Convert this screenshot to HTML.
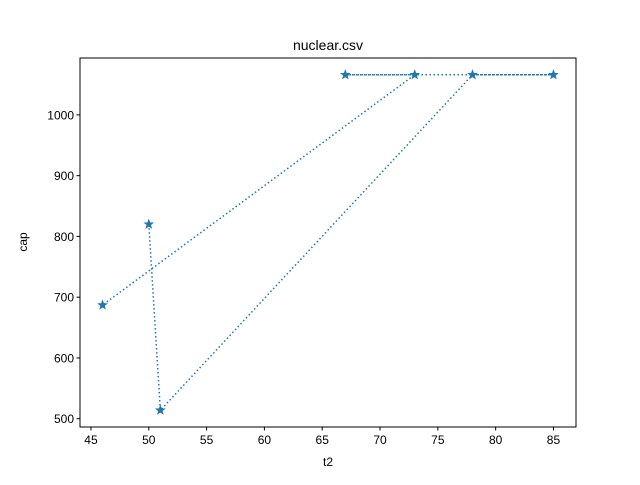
<!DOCTYPE html>
<html><head><meta charset="utf-8"><style>body{margin:0;background:#fff}svg{font-family:"Liberation Sans","DejaVu Sans",sans-serif}</style></head>
<body>
<svg id="chart" width="640" height="480" xmlns="http://www.w3.org/2000/svg">
<rect width="640" height="480" fill="#fff"/>
<text x="328" y="50" text-anchor="middle" font-size="14">nuclear.csv</text>
<g id="axes"></g>
<path id="series" fill="none" stroke="#1f77b4" stroke-width="1.5" stroke-dasharray="1.5,2.5"/>
<g id="marks"></g>
<rect x="80" y="58" width="496" height="369" fill="none" stroke="#000" stroke-width="1"/>
<text x="328" y="466" text-anchor="middle" font-size="12">t2</text>
<text x="0" y="0" transform="translate(27,242) rotate(-90)" text-anchor="middle" font-size="12">cap</text>
</svg>
<script>
const xValues=[50,51,78,85,67,73,46];
const yValues=[820,514,1066,1066,1066,1066,687];
const xTicks=[45,50,55,60,65,70,75,80,85];
const yTicks=[500,600,700,800,900,1000];
const L=80,R=576,T=58,B=427;
const xmin=44.05,xmax=86.95,ymin=486.4,ymax=1093.6;
const sx=v=>L+(v-xmin)/(xmax-xmin)*(R-L);
const sy=v=>B-(v-ymin)/(ymax-ymin)*(B-T);
const NS="http://www.w3.org/2000/svg";
const ax=document.getElementById('axes');
function mk(tag,attrs,parent){const e=document.createElementNS(NS,tag);for(const k in attrs)e.setAttribute(k,attrs[k]);parent.appendChild(e);return e;}
xTicks.forEach(t=>{const x=sx(t);
const l=mk('line',{x1:x,x2:x,y1:B,y2:B+3.5,stroke:'#000'},ax);


const tx=mk('text',{x:x,y:B+17,'text-anchor':'middle','font-size':'12'},ax);tx.textContent=t;

});
yTicks.forEach(t=>{const y=sy(t);
const l=mk('line',{x1:L-3.5,x2:L,y1:y,y2:y,stroke:'#000'},ax);


const tx=mk('text',{x:L-6,y:y+4.5,'text-anchor':'end','font-size':'12'},ax);tx.textContent=t;

});
document.getElementById('series').setAttribute('d',xValues.map((v,i)=>(i?'L':'M')+sx(v)+','+sy(yValues[i])).join(' '));
const mg=document.getElementById('marks');
xValues.forEach((v,i)=>{const cx=sx(v),cy=sy(yValues[i]);const r=4.5,ri=1.9;let p=[];
for(let k=0;k<10;k++){const a=-Math.PI/2+k*Math.PI/5;const rr=k%2?ri:r;p.push((cx+rr*Math.cos(a)).toFixed(2)+','+(cy+rr*Math.sin(a)).toFixed(2));}
const s=mk('polygon',{points:p.join(' '),fill:'#1f77b4',stroke:'#1f77b4','stroke-width':'0.8'},mg);

});
</script>
</body></html>
